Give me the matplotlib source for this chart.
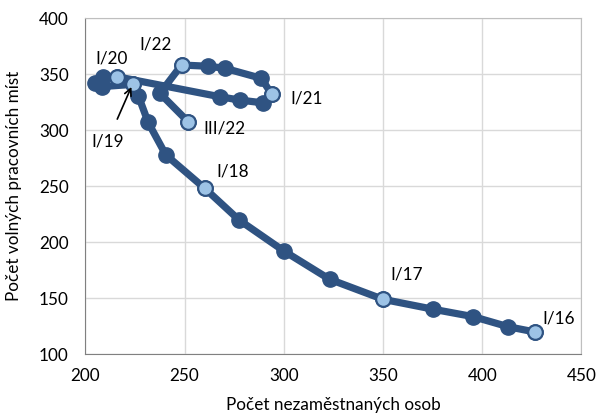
import matplotlib.pyplot as plt

# Beveridgeova křivka, čtvrtletí I/16 .. III/22
quarters = ["I/16", "II/16", "III/16", "IV/16",
            "I/17", "II/17", "III/17", "IV/17",
            "I/18", "II/18", "III/18", "IV/18",
            "I/19", "II/19", "III/19", "IV/19",
            "I/20", "II/20", "III/20", "IV/20",
            "I/21", "II/21", "III/21", "IV/21",
            "I/22", "II/22", "III/22"]
unemployed = [426.7, 413.1, 395.5, 375.4,
              350.0, 323.1, 300.1, 277.5,
              260.2, 240.6, 231.7, 226.7,
              223.8, 208.2, 204.9, 209.0,
              215.8, 267.7, 277.8, 289.6,
              294.0, 288.7, 270.3, 261.9,
              248.5, 237.6, 251.8]
vacancies = [119.9, 124.6, 133.6, 140.2,
             149.1, 167.0, 192.2, 219.9,
             248.2, 278.0, 307.0, 331.0,
             341.0, 339.0, 342.0, 348.0,
             347.9, 330.0, 327.0, 324.5,
             332.0, 346.4, 355.4, 357.2,
             358.3, 333.0, 307.7]
highlighted = ["I/16", "I/17", "I/18", "I/19", "I/20", "I/21", "I/22", "III/22"]

# posun popisku v bodech (dx, dy)
label_offsets = {"I/16": (5, 10), "I/17": (5, 18), "I/18": (8, 12),
                 "I/20": (-15, 13), "I/21": (13, -3), "I/22": (-30, 15),
                 "III/22": (11, -5)}

dark = "#2f5382"
light = "#9dc3e6"
font = ["Lato", "DejaVu Sans"]
plt.rcParams["font.family"] = font
fs = 12.3

fig = plt.figure(figsize=(5.98, 4.16), dpi=100)
ax = fig.add_axes([0.1426, 0.1483, 0.8298, 0.8077])

ax.plot(unemployed, vacancies, color=dark, lw=5.2, marker="o", ms=11,
        mfc=dark, mec=dark, zorder=3, solid_capstyle="round")

hx = [unemployed[quarters.index(q)] for q in highlighted]
hy = [vacancies[quarters.index(q)] for q in highlighted]
ax.plot(hx, hy, "o", ls="none", ms=10.5, mfc=light, mec=dark, mew=1.5, zorder=4)

for q, (dx, dy) in label_offsets.items():
    i = quarters.index(q)
    ax.annotate(q, (unemployed[i], vacancies[i]), xytext=(dx, dy),
                textcoords="offset points", fontsize=fs, va="center", ha="left")

i = quarters.index("I/19")
ax.annotate("I/19", (unemployed[i], vacancies[i]), xytext=(-18, -41),
            textcoords="offset points", fontsize=fs, ha="center", va="center",
            arrowprops=dict(arrowstyle="->", color="black", lw=1.2,
                            shrinkA=9, shrinkB=2), zorder=5)

ax.set_xlim(200, 450)
ax.set_ylim(100, 400)
ax.set_xticks([200, 250, 300, 350, 400, 450])
ax.set_yticks([100, 150, 200, 250, 300, 350, 400])
ax.grid(color="#d9d9d9", lw=1)
ax.set_axisbelow(True)
ax.tick_params(length=0, labelsize=fs)
ax.tick_params(axis="x", pad=10)
ax.tick_params(axis="y", pad=12)
for s in ax.spines.values():
    s.set_color("#bfbfbf")
ax.spines["bottom"].set_color("#808080")
ax.spines["left"].set_color("#808080")

ax.set_xlabel("Počet nezaměstnaných osob", fontsize=fs, labelpad=9)
ax.set_ylabel("Počet volných pracovních míst", fontsize=fs, labelpad=12)

fig.savefig("out.png", dpi=100)
